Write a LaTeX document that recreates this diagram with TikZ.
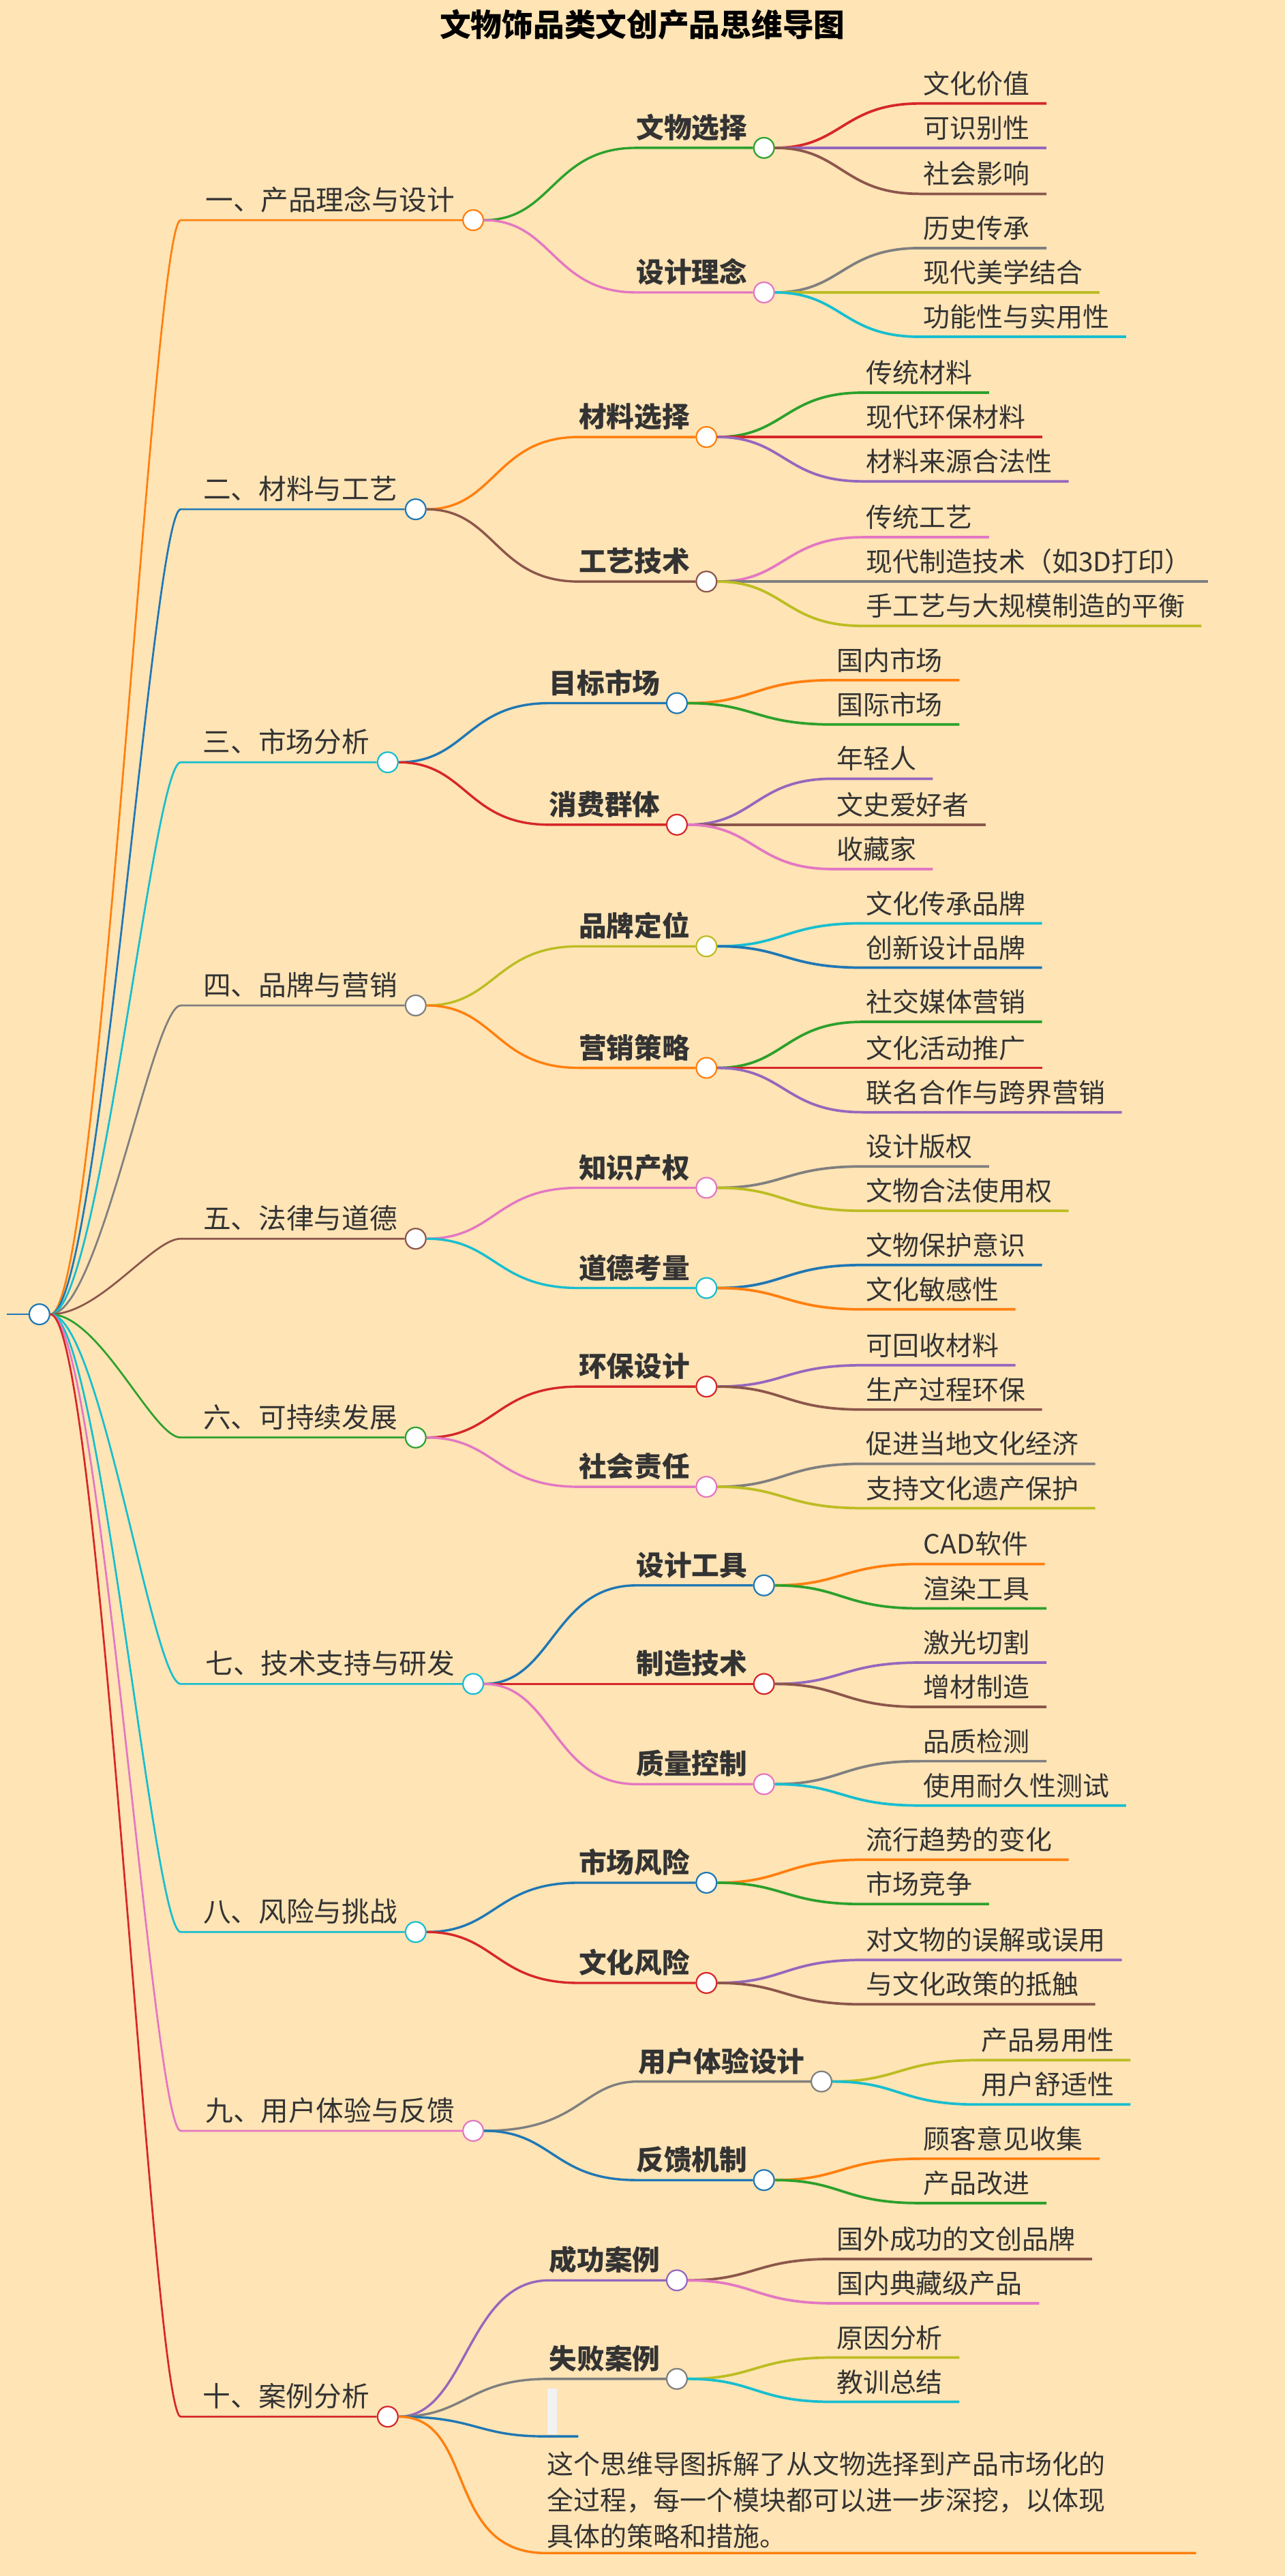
\documentclass[tikz,border=0pt]{standalone}
\usepackage{fontspec}
\setmainfont{Noto Sans CJK SC}
\usetikzlibrary{calc}
\definecolor{bg}{HTML}{FFE4B5}
\definecolor{tx}{HTML}{333333}
\definecolor{cOr}{HTML}{FF7F0E}
\definecolor{cBl}{HTML}{1F77B4}
\definecolor{cGr}{HTML}{2CA02C}
\definecolor{cRd}{HTML}{D62728}
\definecolor{cPu}{HTML}{9467BD}
\definecolor{cBr}{HTML}{8C564B}
\definecolor{cPk}{HTML}{E377C2}
\definecolor{cGy}{HTML}{7F7F7F}
\definecolor{cOl}{HTML}{BCBD22}
\definecolor{cCy}{HTML}{17BECF}
\tikzset{
 dot/.style={circle,fill=white,line width=1.3pt,minimum size=0.62cm,inner sep=0pt},
 lone/.style={inner sep=0pt,text=tx,font=\fontsize{24pt}{28pt}\selectfont},
 ltwo/.style={inner sep=0pt,text=tx,font=\fontsize{24pt}{28pt}\selectfont\bfseries},
 lthree/.style={inner sep=0pt,text=tx,font=\fontsize{23pt}{28pt}\selectfont},
 w1/.style={line width=1.6pt},
 w2/.style={line width=2pt},
 w3/.style={line width=2.2pt},
}
\newcommand\Lone[5]{%
 \node[dot,draw=#4] (#1) at (#2,#3) {};
 \node[lone,anchor=base east] (#1t) at ({#2-11},{#3-6}) {#5};
 \coordinate (#1s) at (110,#3);
 \draw[#4,w1] (root.east) .. controls +(30,0) and (93,#3) .. (#1s) -- (#1.west);
}
\newcommand\Ltwo[8]{%
 \node[dot,draw=#7] (#1) at (#5,#6) {};
 \node[ltwo,anchor=base east] (#1t) at ({#5-10},{#6-6}) {#8};
 \coordinate (#1s) at (#1t.west |- #1);
 \draw[#7,w2] (#2.east) .. controls ({(#3+#5-80)/2},#4) and ({(#3+#5-80)/2},#6) .. (#1s) -- (#1.west);
}
\newcommand\Lthree[8]{%
 \node[lthree,anchor=base west] (#1t) at ({#6+2},{#5-6}) {#8};
 \coordinate (#1s) at (#6,#5);
 \coordinate (#1e) at ($(#1t.east |- #1s)+(10,0)$);
 \draw[#7,w3] (#2.east) .. controls ({(#3+#6)/2},#4) and ({(#3+#6)/2},#5) .. (#1s) -- (#1e);
}
\begin{document}
\begin{tikzpicture}[x=0.05cm,y=-0.05cm]
\fill[bg] (0,0) rectangle (782,1568);
\useasboundingbox (0,0) rectangle (782,1568);
\node[inner sep=0pt,text=black,font=\fontsize{27pt}{30pt}\selectfont\bfseries,anchor=base] (title) at (391,22) {文物饰品类文创产品思维导图};
\node[dot,draw=cBl] (root) at (24,800) {};
\coordinate (stub) at (4,800);
\draw[cBl,w1] (stub) -- (root.west);
% 1
\Lone{a}{288}{134}{cOr}{一、产品理念与设计}
\Ltwo{aa}{a}{288}{134}{465}{90}{cGr}{文物选择}
\Lthree{aa1}{aa}{465}{90}{63}{560}{cRd}{文化价值}
\Lthree{aa2}{aa}{465}{90}{90}{560}{cPu}{可识别性}
\Lthree{aa3}{aa}{465}{90}{118}{560}{cBr}{社会影响}
\Ltwo{ab}{a}{288}{134}{465}{178}{cPk}{设计理念}
\Lthree{ab1}{ab}{465}{178}{151}{560}{cGy}{历史传承}
\Lthree{ab2}{ab}{465}{178}{178}{560}{cOl}{现代美学结合}
\Lthree{ab3}{ab}{465}{178}{205}{560}{cCy}{功能性与实用性}
% 2
\Lone{b}{253}{310}{cBl}{二、材料与工艺}
\Ltwo{ba}{b}{253}{310}{430}{266}{cOr}{材料选择}
\Lthree{ba1}{ba}{430}{266}{239}{525}{cGr}{传统材料}
\Lthree{ba2}{ba}{430}{266}{266}{525}{cRd}{现代环保材料}
\Lthree{ba3}{ba}{430}{266}{293}{525}{cPu}{材料来源合法性}
\Ltwo{bb}{b}{253}{310}{430}{354}{cBr}{工艺技术}
\Lthree{bb1}{bb}{430}{354}{327}{525}{cPk}{传统工艺}
\Lthree{bb2}{bb}{430}{354}{354}{525}{cGy}{现代制造技术（如3D打印）}
\Lthree{bb3}{bb}{430}{354}{381}{525}{cOl}{手工艺与大规模制造的平衡}
% 3
\Lone{c}{236}{464}{cCy}{三、市场分析}
\Ltwo{ca}{c}{236}{464}{412}{428}{cBl}{目标市场}
\Lthree{ca1}{ca}{412}{428}{414}{507}{cOr}{国内市场}
\Lthree{ca2}{ca}{412}{428}{441}{507}{cGr}{国际市场}
\Ltwo{cb}{c}{236}{464}{412}{502}{cRd}{消费群体}
\Lthree{cb1}{cb}{412}{502}{474}{507}{cPu}{年轻人}
\Lthree{cb2}{cb}{412}{502}{502}{507}{cBr}{文史爱好者}
\Lthree{cb3}{cb}{412}{502}{529}{507}{cPk}{收藏家}
% 4
\Lone{d}{253}{612}{cGy}{四、品牌与营销}
\Ltwo{da}{d}{253}{612}{430}{576}{cOl}{品牌定位}
\Lthree{da1}{da}{430}{576}{562}{525}{cCy}{文化传承品牌}
\Lthree{da2}{da}{430}{576}{589}{525}{cBl}{创新设计品牌}
\Ltwo{db}{d}{253}{612}{430}{650}{cOr}{营销策略}
\Lthree{db1}{db}{430}{650}{622}{525}{cGr}{社交媒体营销}
\Lthree{db2}{db}{430}{650}{650}{525}{cRd}{文化活动推广}
\Lthree{db3}{db}{430}{650}{677}{525}{cPu}{联名合作与跨界营销}
% 5
\Lone{e}{253}{754}{cBr}{五、法律与道德}
\Ltwo{ea}{e}{253}{754}{430}{723}{cPk}{知识产权}
\Lthree{ea1}{ea}{430}{723}{710}{525}{cGy}{设计版权}
\Lthree{ea2}{ea}{430}{723}{737}{525}{cOl}{文物合法使用权}
\Ltwo{eb}{e}{253}{754}{430}{784}{cCy}{道德考量}
\Lthree{eb1}{eb}{430}{784}{770}{525}{cBl}{文物保护意识}
\Lthree{eb2}{eb}{430}{784}{797}{525}{cOr}{文化敏感性}
% 6
\Lone{f}{253}{875}{cGr}{六、可持续发展}
\Ltwo{fa}{f}{253}{875}{430}{844}{cRd}{环保设计}
\Lthree{fa1}{fa}{430}{844}{831}{525}{cPu}{可回收材料}
\Lthree{fa2}{fa}{430}{844}{858}{525}{cBr}{生产过程环保}
\Ltwo{fb}{f}{253}{875}{430}{905}{cPk}{社会责任}
\Lthree{fb1}{fb}{430}{905}{891}{525}{cGy}{促进当地文化经济}
\Lthree{fb2}{fb}{430}{905}{918}{525}{cOl}{支持文化遗产保护}
% 7
\Lone{g}{288}{1025}{cCy}{七、技术支持与研发}
\Ltwo{ga}{g}{288}{1025}{465}{965}{cBl}{设计工具}
\Lthree{ga1}{ga}{465}{965}{952}{560}{cOr}{CAD软件}
\Lthree{ga2}{ga}{465}{965}{979}{560}{cGr}{渲染工具}
\Ltwo{gb}{g}{288}{1025}{465}{1025}{cRd}{制造技术}
\Lthree{gb1}{gb}{465}{1025}{1012}{560}{cPu}{激光切割}
\Lthree{gb2}{gb}{465}{1025}{1039}{560}{cBr}{增材制造}
\Ltwo{gc}{g}{288}{1025}{465}{1086}{cPk}{质量控制}
\Lthree{gc1}{gc}{465}{1086}{1072}{560}{cGy}{品质检测}
\Lthree{gc2}{gc}{465}{1086}{1099}{560}{cCy}{使用耐久性测试}
% 8
\Lone{h}{253}{1176}{cCy}{八、风险与挑战}
\Ltwo{ha}{h}{253}{1176}{430}{1146}{cBl}{市场风险}
\Lthree{ha1}{ha}{430}{1146}{1132}{525}{cOr}{流行趋势的变化}
\Lthree{ha2}{ha}{430}{1146}{1159}{525}{cGr}{市场竞争}
\Ltwo{hb}{h}{253}{1176}{430}{1207}{cRd}{文化风险}
\Lthree{hb1}{hb}{430}{1207}{1193}{525}{cPu}{对文物的误解或误用}
\Lthree{hb2}{hb}{430}{1207}{1220}{525}{cBr}{与文化政策的抵触}
% 9
\Lone{i}{288}{1297}{cPk}{九、用户体验与反馈}
\Ltwo{ia}{i}{288}{1297}{500}{1267}{cGy}{用户体验设计}
\Lthree{ia1}{ia}{500}{1267}{1254}{595}{cOl}{产品易用性}
\Lthree{ia2}{ia}{500}{1267}{1281}{595}{cCy}{用户舒适性}
\Ltwo{ib}{i}{288}{1297}{465}{1327}{cBl}{反馈机制}
\Lthree{ib1}{ib}{465}{1327}{1314}{560}{cOr}{顾客意见收集}
\Lthree{ib2}{ib}{465}{1327}{1341}{560}{cGr}{产品改进}
% 10
\Lone{j}{236}{1471}{cRd}{十、案例分析}
\Ltwo{ja}{j}{236}{1471}{412}{1388}{cPu}{成功案例}
\Lthree{ja1}{ja}{412}{1388}{1375}{507}{cBr}{国外成功的文创品牌}
\Lthree{ja2}{ja}{412}{1388}{1402}{507}{cPk}{国内典藏级产品}
\Ltwo{jb}{j}{236}{1471}{412}{1448}{cGy}{失败案例}
\Lthree{jb1}{jb}{412}{1448}{1435}{507}{cOl}{原因分析}
\Lthree{jb2}{jb}{412}{1448}{1462}{507}{cCy}{教训总结}
% empty branch
\coordinate (jcs) at (332,1483);
\coordinate (jce) at (352,1483);
\draw[cBl,w2] (j.east) .. controls (290,1471) and (290,1483) .. (jcs) -- (jce);
\node[fill=white!95!black,draw=none,minimum width=0.3cm,minimum height=1.4cm,inner sep=0pt,anchor=south west] (blank) at (333,1482) {};
% note
\node[lthree,anchor=base west] (n1) at (333,1506) {这个思维导图拆解了从文物选择到产品市场化的};
\node[lthree,anchor=base west] (n2) at (333,1528) {全过程，每一个模块都可以进一步深挖，以体现};
\node[lthree,anchor=base west] (n3) at (333,1550) {具体的策略和措施。};
\coordinate (jds) at (332,1554);
\coordinate (jde) at (728,1554);
\draw[cOr,w2] (j.east) .. controls (290,1471) and (270,1554) .. (jds) -- (jde);
\end{tikzpicture}
\end{document}
